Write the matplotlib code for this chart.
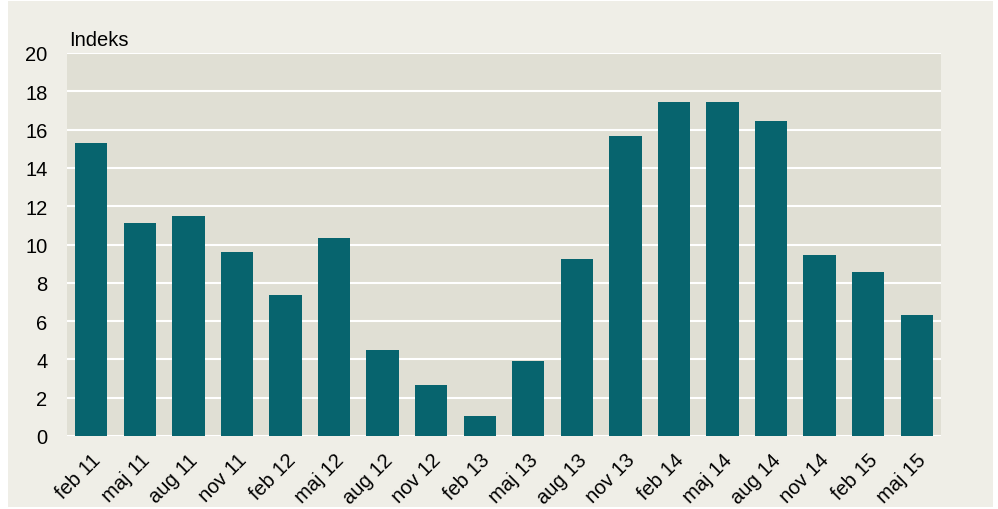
import numpy as np
import matplotlib
matplotlib.use('Agg')
import matplotlib.pyplot as plt
from matplotlib.patches import Rectangle

plt.rcParams['font.family'] = ['Liberation Sans', 'DejaVu Sans']

# data
perioder = ['feb 11', 'maj 11', 'aug 11', 'nov 11', 'feb 12', 'maj 12',
            'aug 12', 'nov 12', 'feb 13', 'maj 13', 'aug 13', 'nov 13',
            'feb 14', 'maj 14', 'aug 14', 'nov 14', 'feb 15', 'maj 15']
indeks = [15.28, 11.11, 11.50, 9.62, 7.36, 10.33,
          4.49, 2.66, 1.04, 3.92, 9.24, 15.66,
          17.43, 17.43, 16.45, 9.45, 8.56, 6.32]
y_ticks = [0, 2, 4, 6, 8, 10, 12, 14, 16, 18, 20]

W, H = 998, 510
fig = plt.figure(figsize=(W / 100, H / 100), dpi=100, facecolor='white')

# beige baggrund (hvid kant rundt om)
bg = Rectangle((8 / W, 2 / H), (993 - 8) / W, (508 - 2) / H,
               transform=fig.transFigure, facecolor='#EFEEE7',
               edgecolor='none', zorder=-10)
fig.patches.append(bg)

ax = fig.add_axes([67 / W, 1 - 437 / H, (941 - 67) / W, (437 - 54) / H])
ax.set_facecolor('#E0DFD4')

x = np.arange(len(perioder))
ax.bar(x, indeks, width=0.665, color='#07646E', zorder=3)

ax.set_xlim(-0.5, len(perioder) - 0.5)
ax.set_ylim(0, 20)
ax.set_yticks(y_ticks)
ax.set_yticklabels([str(v) for v in y_ticks], fontsize=14.5)
ax.set_xticks(x)
ax.set_xticklabels(perioder, rotation=45, ha='right', rotation_mode='anchor',
                   fontsize=14.5)
ax.tick_params(axis='y', length=0, pad=14)
ax.tick_params(axis='x', length=0, pad=10)

for v in y_ticks:
    ax.axhline(v, color='white', lw=1.5, zorder=2)
for s in ax.spines.values():
    s.set_visible(False)

ax.text(0.002, 1.01, 'Indeks', transform=ax.transAxes, fontsize=14.5,
        ha='left', va='bottom')

fig.savefig('out.png', dpi=100, facecolor=fig.get_facecolor())
